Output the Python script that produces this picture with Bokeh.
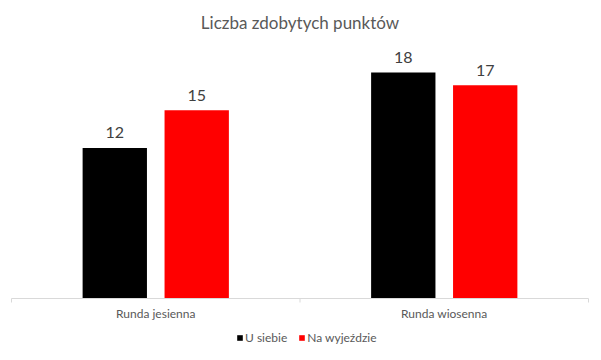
import math
from bokeh.plotting import figure
from bokeh.models import Range1d, Legend, LegendItem, ColumnDataSource
from bokeh.transform import dodge
from bokeh.core.properties import value
from bokeh.embed import file_html
from bokeh.resources import INLINE

title = "Liczba zdobytych punktów"
categories = ["Runda jesienna", "Runda wiosenna"]
series = ["U siebie", "Na wyjeździe"]
u_siebie = [12, 18]
na_wyjezdzie = [15, 17]
colors = ["#000000", "#ff0000"]

FONT = "Lato"
GREY = "#595959"
AXIS = "#d9d9d9"
n = len(categories)
centers = [i + 0.5 for i in range(n)]
bounds = list(range(n + 1))

W, H = 592, 350
# plot area in pixels: x 11..588, y 47 (value 20) .. 298 (value 0)
px_x = (588 - 11) / n
px_y = (298 - 47) / 20
p = figure(width=W, height=H,
           x_range=Range1d(-11 / px_x, n + (W - 588) / px_x),
           y_range=Range1d(-(H - 298) / px_y, 20 + 47 / px_y),
           output_backend="svg", toolbar_location=None,
           x_axis_location=None, y_axis_location=None,
           min_border=0)
p.outline_line_color = None
p.grid.grid_line_color = None
p.background_fill_color = "white"
p.border_fill_color = "white"

src = ColumnDataSource(dict(x=centers, cat=categories, u=u_siebie, w=na_wyjezdzie,
                            u_lbl=[str(v) for v in u_siebie],
                            w_lbl=[str(v) for v in na_wyjezdzie]))

off = 0.142
bw = 0.223
r1 = p.vbar(x=dodge("x", -off), top="u", width=bw,
            source=src, fill_color=colors[0], line_color=None)
r2 = p.vbar(x=dodge("x", off), top="w", width=bw,
            source=src, fill_color=colors[1], line_color=None)

# category axis
p.segment(x0=[0], y0=[0], x1=[n], y1=[0], line_color=AXIS, line_width=1)
p.ray(x=bounds, y=[0] * len(bounds), length=4, length_units="screen",
      angle=-math.pi / 2, line_color=AXIS, line_width=1)
p.text(x="x", y=0, text="cat", source=src, y_offset=15,
       text_align="center", text_baseline="alphabetic",
       text_font=value(FONT), text_font_size="12px", text_color=GREY)

# data labels
for col, lbl, o in (("u", "u_lbl", -off), ("w", "w_lbl", off)):
    p.text(x=dodge("x", o), y=col, text=lbl, source=src,
           text_align="center", text_baseline="alphabetic", y_offset=-15,
           text_font=value(FONT), text_font_size="16px", text_color="#404040")

# title
p.text(x=[n / 2], y=[20], text=[title], y_offset=-25,
       text_align="center", text_baseline="alphabetic",
       text_font=value(FONT), text_font_size="17px", text_color=GREY)

legend = Legend(items=[LegendItem(label=series[0], renderers=[r1]),
                       LegendItem(label=series[1], renderers=[r2])],
                orientation="horizontal", location=(236, 5),
                glyph_width=7, glyph_height=7, label_standoff=2, spacing=11,
                label_height=12, label_text_font=FONT, label_text_font_size="12px",
                label_text_color=GREY, padding=0, margin=0,
                border_line_color=None, background_fill_alpha=0)
p.add_layout(legend, "center")

open("out.html", "w").write(file_html(p, INLINE))
